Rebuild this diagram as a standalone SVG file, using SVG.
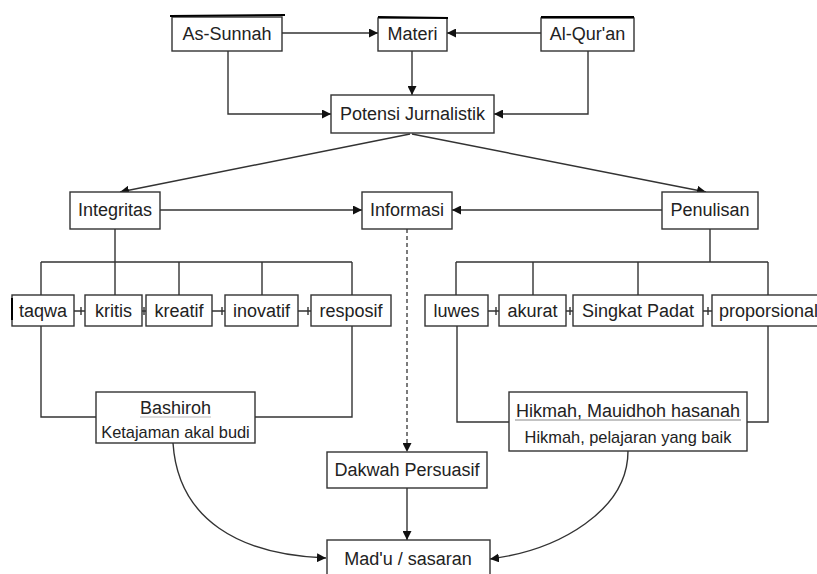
<svg xmlns="http://www.w3.org/2000/svg" width="817" height="574" viewBox="0 0 817 574">
<style>
.box{fill:#fff;stroke:#333;stroke-width:1.4}
.t{font-family:"Liberation Sans",Arial,sans-serif;font-size:18px;fill:#222;text-anchor:middle}
.s{font-size:16.4px}
.c{fill:none;stroke:#333;stroke-width:1.4}
.d{fill:none;stroke:#444;stroke-width:1.4;stroke-dasharray:4 3}
.top{stroke:#000;stroke-width:2}
</style>
<defs>
<marker id="ah" viewBox="0 0 10 10" refX="10" refY="5" markerWidth="9" markerHeight="9" markerUnits="userSpaceOnUse" orient="auto">
<path d="M0,0 L10,5 L0,10 z" fill="#111"/>
</marker>
</defs>
<rect width="817" height="574" fill="#fff"/>
<g id="connectors">
<path class="c" d="M282,33 H378" marker-end="url(#ah)"/>
<path class="c" d="M541,33 H447" marker-end="url(#ah)"/>
<path class="c" d="M412,51 V95" marker-end="url(#ah)"/>
<path class="c" d="M228,51 V114 H331" marker-end="url(#ah)"/>
<path class="c" d="M588,51 V114 H494" marker-end="url(#ah)"/>
<path class="c" d="M410,134 L120,192" marker-end="url(#ah)"/>
<path class="c" d="M412,134 L706,192" marker-end="url(#ah)"/>
<path class="c" d="M160,210 H362" marker-end="url(#ah)"/>
<path class="c" d="M662,210 H452" marker-end="url(#ah)"/>
<path class="d" d="M407,229 V452" marker-end="url(#ah)"/>
<path class="c" d="M407,488 V540" marker-end="url(#ah)"/>
<path class="c" d="M115,229 V262 M41,262 H352 M41,262 V295 M115,262 V295 M179,262 V295 M262,262 V295 M352,262 V295"/>
<path class="c" d="M41,326 V417 H96 M352,326 V417 H255"/>
<path class="c" d="M710,229 V262 M456,262 H768 M456,262 V295 M533,262 V295 M638,262 V295 M768,262 V295"/>
<path class="c" d="M457,326 V422 H509 M768,326 V422 H747"/>
<path class="c" d="M74,311 H85 M81,307 V315 M142,311 H146 M144,307 V315 M212,311 H225 M222,307 V315 M298,311 H311 M308,307 V315"/>
<path class="c" d="M488,311 H499 M496,307 V315 M566,311 H573 M570,307 V315 M703,311 H712 M708,307 V315"/>
<path class="c" d="M173,443 C178,520 240,555 326,558" marker-end="url(#ah)"/>
<path class="c" d="M628,451 C628,510 560,550 490,559" marker-end="url(#ah)"/>
</g>
<g id="as-sunnah"><rect class="box" x="172" y="17" width="110" height="34"/><line class="top" x1="170" y1="16" x2="285" y2="15"/><text class="t" x="227" y="40">As-Sunnah</text></g>
<g id="materi"><rect class="box" x="378" y="18" width="69" height="33"/><line class="top" x1="378" y1="17" x2="448" y2="18"/><text class="t" x="412.5" y="40">Materi</text></g>
<g id="al-quran"><rect class="box" x="541" y="18" width="93" height="33"/><line class="top" x1="541" y1="17" x2="634" y2="17"/><text class="t" x="587.5" y="40">Al-Qur'an</text></g>
<g id="potensi"><rect class="box" x="331" y="95" width="163" height="38"/><text class="t" x="412.5" y="120">Potensi Jurnalistik</text></g>
<g id="integritas"><rect class="box" x="70" y="192" width="90" height="37"/><text class="t" x="115" y="216">Integritas</text></g>
<g id="informasi"><rect class="box" x="362" y="192" width="90" height="37"/><text class="t" x="407" y="216">Informasi</text></g>
<g id="penulisan"><rect class="box" x="662" y="192" width="96" height="37"/><text class="t" x="710" y="216">Penulisan</text></g>
<g id="taqwa"><rect class="box" x="12" y="295" width="62" height="31"/><line class="top" x1="12" y1="298" x2="12" y2="320"/><text class="t" x="43" y="317">taqwa</text></g>
<g id="kritis"><rect class="box" x="85" y="295" width="57" height="31"/><text class="t" x="113.5" y="317">kritis</text></g>
<g id="kreatif"><rect class="box" x="146" y="295" width="66" height="31"/><text class="t" x="179" y="317">kreatif</text></g>
<g id="inovatif"><rect class="box" x="225" y="295" width="73" height="31"/><text class="t" x="261.5" y="317">inovatif</text></g>
<g id="resposif"><rect class="box" x="311" y="295" width="80" height="31"/><text class="t" x="351" y="317">resposif</text></g>
<g id="luwes"><rect class="box" x="425" y="295" width="63" height="31"/><text class="t" x="456.5" y="317">luwes</text></g>
<g id="akurat"><rect class="box" x="499" y="295" width="67" height="31"/><text class="t" x="532.5" y="317">akurat</text></g>
<g id="singkat"><rect class="box" x="573" y="295" width="130" height="31"/><text class="t" x="638" y="317">Singkat Padat</text></g>
<g id="proporsional"><rect class="box" x="712" y="295" width="112" height="31"/><text class="t" x="719" y="317" style="text-anchor:start">proporsional</text></g>
<g id="bashiroh"><rect class="box" x="96" y="392" width="159" height="51"/><text class="t" x="175.5" y="414">Bashiroh</text><line x1="140" y1="417" x2="211" y2="417" stroke="#bbb" stroke-width="1"/><text class="t s" x="175.5" y="438">Ketajaman akal budi</text></g>
<g id="hikmah"><rect class="box" x="509" y="392" width="238" height="59"/><text class="t" x="628" y="417">Hikmah, Mauidhoh hasanah</text><line x1="515" y1="420" x2="741" y2="420" stroke="#888" stroke-width="1"/><text class="t s" x="628" y="443">Hikmah, pelajaran yang baik</text></g>
<g id="dakwah"><rect class="box" x="327" y="452" width="160" height="36"/><text class="t" x="407" y="476">Dakwah Persuasif</text></g>
<g id="madu"><rect class="box" x="327" y="540" width="163" height="40"/><text class="t" x="408" y="565">Mad'u / sasaran</text></g>
</svg>
